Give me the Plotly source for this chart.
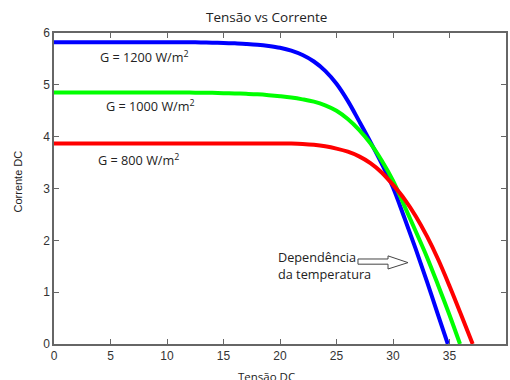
import plotly.graph_objects as go

# Data
v_1200 = [0, 2, 4, 6, 8, 10, 11, 12, 13, 14, 15, 16, 17, 18, 19, 20, 21, 22, 23, 24, 25, 26, 27, 28, 29, 30, 31, 32, 33, 34, 34.85]
i_1200 = [5.82, 5.82, 5.82, 5.82, 5.82, 5.82, 5.82, 5.82, 5.818, 5.814, 5.808, 5.80, 5.79, 5.775, 5.75, 5.715, 5.66, 5.575, 5.45, 5.27, 5.02, 4.69, 4.30, 3.90, 3.48, 3.02, 2.44, 1.84, 1.21, 0.55, 0]

v_1000 = [0, 2, 4, 6, 8, 10, 11, 12, 13, 14, 15, 16, 17, 18, 19, 20, 21, 22, 23, 24, 25, 26, 27, 28, 29, 30, 31, 32, 33, 34, 35, 35.93]
i_1000 = [4.85, 4.85, 4.85, 4.85, 4.85, 4.85, 4.85, 4.85, 4.848, 4.845, 4.84, 4.834, 4.826, 4.816, 4.80, 4.78, 4.755, 4.72, 4.675, 4.605, 4.50, 4.34, 4.13, 3.87, 3.54, 3.15, 2.67, 2.18, 1.68, 1.13, 0.56, 0]

v_800 = [0, 2, 4, 6, 8, 10, 11, 12, 13, 14, 15, 16, 17, 18, 19, 20, 21, 22, 23, 24, 25, 26, 27, 28, 29, 30, 31, 32, 33, 34, 35, 36, 37.05]
i_800 = [3.87, 3.87, 3.87, 3.87, 3.87, 3.87, 3.87, 3.87, 3.87, 3.87, 3.87, 3.87, 3.87, 3.87, 3.87, 3.869, 3.866, 3.858, 3.842, 3.814, 3.77, 3.71, 3.62, 3.49, 3.31, 3.07, 2.80, 2.47, 2.08, 1.63, 1.12, 0.58, 0]

x_ticks = [0, 5, 10, 15, 20, 25, 30, 35, 40]
y_ticks = [0, 1, 2, 3, 4, 5, 6]

fig = go.Figure()
for v, i, c in [(v_1200, i_1200, "#0000ff"), (v_1000, i_1000, "#00ff00"), (v_800, i_800, "#ff0000")]:
    fig.add_trace(go.Scatter(x=v, y=i, mode="lines",
                             line=dict(color=c, width=4, shape="spline", smoothing=1.0),
                             showlegend=False, hoverinfo="skip"))

lab_font = dict(family="Open Sans", size=12.7, color="#222")
fig.add_annotation(x=8.05, y=5.54, text="G = 1200 W/m<sup>2</sup>", showarrow=False, font=lab_font)
fig.add_annotation(x=8.5, y=4.59, text="G = 1000 W/m<sup>2</sup>", showarrow=False, font=lab_font)
fig.add_annotation(x=7.5, y=3.55, text="G = 800 W/m<sup>2</sup>", showarrow=False, font=lab_font)
fig.add_annotation(x=19.65, y=1.52, text="Dependência<br>da temperatura", showarrow=False,
                   xanchor="left", align="left", font=lab_font)

# hollow arrow
fig.add_shape(type="path", xref="x", yref="y",
              path="M 26.9 1.64 L 29.56 1.64 L 29.56 1.70 L 31.33 1.57 L 29.56 1.447 L 29.56 1.54 L 26.9 1.54 Z",
              line=dict(color="#444", width=1), fillcolor="white")

# axis titles and chart title as text
fig.add_annotation(xref="paper", yref="paper", x=(266 - 54) / 452, y=(344 - 376) / 311,
                   text="Tensão DC", showarrow=False, xanchor="center", yanchor="middle",
                   font=dict(family="Open Sans", size=11.5, color="#222"))
fig.add_annotation(xref="paper", yref="paper", x=(17.5 - 54) / 452, y=(344 - 182) / 311,
                   text="Corrente DC", showarrow=False, textangle=-90, xanchor="center", yanchor="middle",
                   font=dict(family="Liberation Sans", size=11, color="#222"))
fig.add_annotation(xref="paper", yref="paper", x=(266 - 54) / 452, y=(344 - 17.5) / 311,
                   text="Tensão vs Corrente", showarrow=False, xanchor="center", yanchor="middle",
                   font=dict(family="Open Sans", size=13.5, color="#222"))

axis_common = dict(showgrid=False, zeroline=False, ticks="inside", ticklen=5, tickcolor="#666",
                   showline=True, linecolor="#666", linewidth=1.5, mirror="ticks", automargin=False,
                   tickfont=dict(family="Liberation Sans", size=12, color="#333"))

fig.update_layout(
    width=510, height=380,
    margin=dict(l=54, r=4, t=33, b=36),
    plot_bgcolor="white", paper_bgcolor="white",
    xaxis=dict(range=[0, 40], tickvals=x_ticks, ticktext=[str(t) for t in x_ticks], **axis_common),
    yaxis=dict(range=[0, 6], tickvals=y_ticks, ticktext=[str(t) for t in y_ticks], **axis_common),
)

fig.write_html("out.html", config={"displayModeBar": False},
               post_script="document.body.style.margin='0';document.body.style.overflow='hidden';")
